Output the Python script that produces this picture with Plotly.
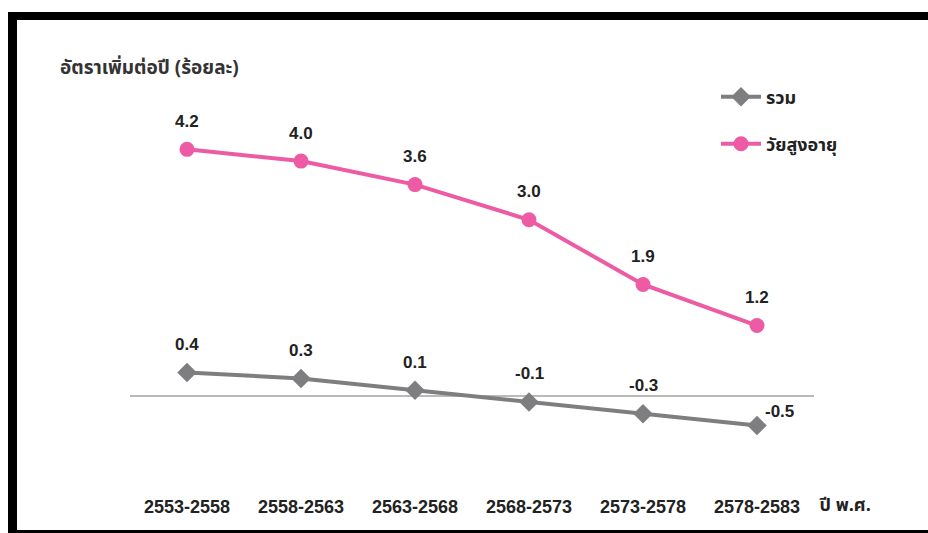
import plotly.graph_objects as go

periods = ["2553-2558", "2558-2563", "2563-2568", "2568-2573", "2573-2578", "2578-2583"]
total = [0.4, 0.3, 0.1, -0.1, -0.3, -0.5]
elderly = [4.2, 4.0, 3.6, 3.0, 1.9, 1.2]
total_labels = ["0.4", "0.3", "0.1", "-0.1", "-0.3", "-0.5"]
elderly_labels = ["4.2", "4.0", "3.6", "3.0", "1.9", "1.2"]
name_total = "รวม"
name_elderly = "วัยสูงอายุ"
y_title = "อัตราเพิ่มต่อปี (ร้อยละ)"
x_title = "ปี พ.ศ."

W, H = 928, 533
L, R, T, B = 130, 114, 100, 43
PW, PH = W - L - R, H - T - B

def px(xp):
    return (xp - L) / PW

def py(yp):
    return (H - B - yp) / PH

PINK = "#EC5BA4"
GRAY = "#7E7E80"
LABEL_FONT = dict(family="Liberation Sans, Arial, sans-serif", size=17, color="#222222")
THAI_FONT = "Noto Sans Thai, Noto Sans, Loma, Garuda, sans-serif"

fig = go.Figure()
fig.add_trace(go.Scatter(
    x=periods, y=total, mode="lines+markers", name="<b>%s</b>" % name_total,
    line=dict(color=GRAY, width=4),
    marker=dict(symbol="diamond", size=15, color=GRAY),
    legend="legend", cliponaxis=False,
))
fig.add_trace(go.Scatter(
    x=periods, y=elderly, mode="lines+markers", name="<b>%s</b>" % name_elderly,
    line=dict(color=PINK, width=4),
    marker=dict(symbol="circle", size=15, color=PINK),
    legend="legend2", cliponaxis=False,
))

annotations = []
for i, (p, v, t) in enumerate(zip(periods, elderly, elderly_labels)):
    annotations.append(dict(x=p, y=v, text="<b>%s</b>" % t, showarrow=False,
                            yshift=28, font=LABEL_FONT))
for i, (p, v, t) in enumerate(zip(periods, total, total_labels)):
    xs = 22 if i == len(periods) - 1 else 0
    ys = 14 if i == len(periods) - 1 else 28
    annotations.append(dict(x=p, y=v, text="<b>%s</b>" % t, showarrow=False,
                            xshift=xs, yshift=ys, font=LABEL_FONT))

annotations.append(dict(xref="paper", yref="paper", x=px(58), y=py(68),
                        xanchor="left", yanchor="middle", showarrow=False,
                        text="<b>%s</b>" % y_title,
                        font=dict(family=THAI_FONT, size=19, color="#333333")))
annotations.append(dict(xref="paper", yref="paper", x=px(817), y=py(505),
                        xanchor="left", yanchor="middle", showarrow=False,
                        text="<b>%s</b>" % x_title,
                        font=dict(family=THAI_FONT, size=18, color="#222222")))

shapes = [
    # zero line
    dict(type="line", xref="paper", yref="y", x0=0, x1=1, y0=0, y1=0,
         line=dict(color="#A3A3A5", width=1.5), layer="below"),
    # frame: top, left, bottom
    dict(type="rect", xref="paper", yref="paper", x0=px(8), x1=px(W + 5),
         y0=py(20), y1=py(12), fillcolor="#000000", line=dict(width=0)),
    dict(type="rect", xref="paper", yref="paper", x0=px(8), x1=px(17),
         y0=py(H + 5), y1=py(12), fillcolor="#000000", line=dict(width=0)),
    dict(type="rect", xref="paper", yref="paper", x0=px(8), x1=px(W + 5),
         y0=py(533), y1=py(530), fillcolor="#000000", line=dict(width=0)),
]

fig.update_layout(
    width=W, height=H,
    margin=dict(l=L, r=R, t=T, b=B, pad=0),
    paper_bgcolor="white", plot_bgcolor="white",
    showlegend=True,
    legend=dict(x=px(716), y=py(97), xanchor="left", yanchor="middle",
                font=dict(family=THAI_FONT, size=18, color="#222222"),
                bgcolor="rgba(0,0,0,0)", itemwidth=40),
    legend2=dict(x=px(716), y=py(144), xanchor="left", yanchor="middle",
                 font=dict(family=THAI_FONT, size=18, color="#222222"),
                 bgcolor="rgba(0,0,0,0)", itemwidth=40),
    xaxis=dict(type="category", range=[-0.5, 5.5], showgrid=False, zeroline=False,
               showline=False, ticks="", ticklabelstandoff=4,
               tickfont=dict(family="Liberation Sans Narrow, Arial Narrow, Liberation Sans, sans-serif",
                             size=18, color="#222222"),
               tickvals=periods, ticktext=["<b>%s</b>" % p for p in periods]),
    yaxis=dict(range=[-1.6, 5.04], showgrid=False, zeroline=False, showline=False,
               showticklabels=False, ticks=""),
    annotations=annotations,
    shapes=shapes,
)

fig.write_html("out.html")
